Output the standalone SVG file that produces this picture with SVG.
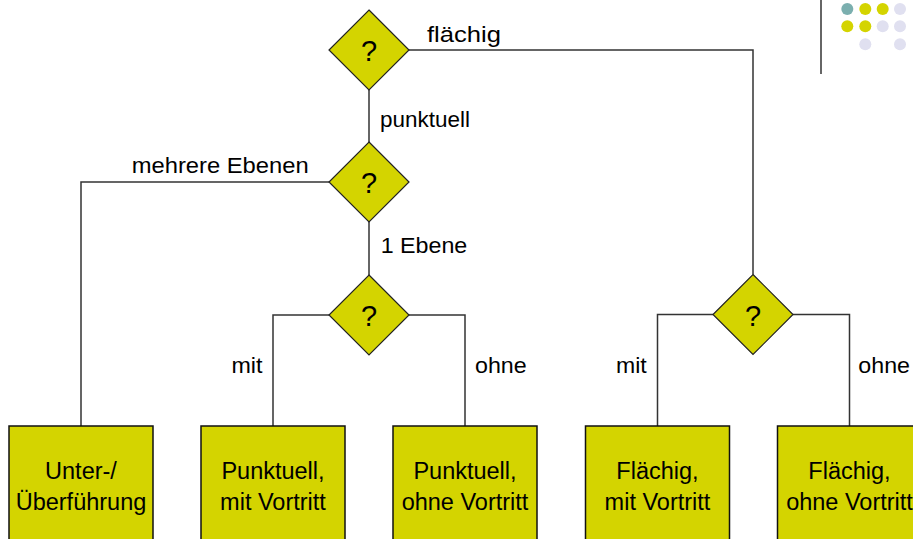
<svg xmlns="http://www.w3.org/2000/svg" width="913" height="539" viewBox="0 0 913 539">
<style>
  text { font-family: "Liberation Sans", Arial, sans-serif; fill: #000; }
  .lbl { font-size: 22.5px; }
  .q { font-size: 29px; text-anchor: middle; }
  .bt { font-size: 23.5px; text-anchor: middle; }
  .dia { fill: #D4D400; stroke: #222; stroke-width: 1.2; }
  .box { fill: #D4D400; stroke: #111; stroke-width: 1.5; }
  .conn path { fill: none; stroke: #333; stroke-width: 1.5; }
</style>
<rect width="913" height="539" fill="#fff"/>

<g id="logo">
  <line x1="821" y1="0" x2="821" y2="74" stroke="#666" stroke-width="2"/>
  <circle cx="847.3" cy="9" r="6" fill="#7BAFAF"/>
  <circle cx="865.3" cy="9" r="6" fill="#D4D400"/>
  <circle cx="882.7" cy="9" r="6" fill="#D4D400"/>
  <circle cx="900" cy="9" r="6" fill="#E0E0F0"/>
  <circle cx="847.3" cy="26.3" r="6" fill="#D4D400"/>
  <circle cx="865.3" cy="26.3" r="6" fill="#D4D400"/>
  <circle cx="882.7" cy="26.3" r="6" fill="#E0E0F0"/>
  <circle cx="900" cy="26.3" r="6" fill="#E0E0F0"/>
  <circle cx="865.3" cy="44.3" r="6" fill="#E0E0F0"/>
  <circle cx="900" cy="44.3" r="6" fill="#E0E0F0"/>
</g>

<g id="connectors" class="conn">
  <path d="M409,50 H753 V274.5"/>
  <path d="M369,90 V142"/>
  <path d="M329,182 H81 V426"/>
  <path d="M369,222 V275"/>
  <path d="M329,315 H273 V426"/>
  <path d="M409,315 H465 V426"/>
  <path d="M713,314.5 H657.5 V426"/>
  <path d="M793,314.5 H849.5 V426"/>
</g>

<g id="labels" class="lbl">
  <text x="427" y="42" textLength="74" lengthAdjust="spacingAndGlyphs">flächig</text>
  <text x="380" y="127" textLength="90" lengthAdjust="spacingAndGlyphs">punktuell</text>
  <text x="131.7" y="173" textLength="177" lengthAdjust="spacingAndGlyphs">mehrere Ebenen</text>
  <text x="380.7" y="253" textLength="86.6" lengthAdjust="spacingAndGlyphs">1 Ebene</text>
  <text x="231.5" y="373" textLength="31" lengthAdjust="spacingAndGlyphs">mit</text>
  <text x="475" y="373" textLength="51.7" lengthAdjust="spacingAndGlyphs">ohne</text>
  <text x="616" y="373" textLength="30.7" lengthAdjust="spacingAndGlyphs">mit</text>
  <text x="858.3" y="373" textLength="51.7" lengthAdjust="spacingAndGlyphs">ohne</text>
</g>

<g id="d1">
  <polygon class="dia" points="369,10 409,50 369,90 329,50"/>
  <text class="q" x="369" y="61">?</text>
</g>
<g id="d2">
  <polygon class="dia" points="369,142 409,182 369,222 329,182"/>
  <text class="q" x="369" y="193">?</text>
</g>
<g id="d3">
  <polygon class="dia" points="369,275 409,315 369,355 329,315"/>
  <text class="q" x="369" y="326">?</text>
</g>
<g id="d4">
  <polygon class="dia" points="753,274.5 793,314.5 753,354.5 713,314.5"/>
  <text class="q" x="753" y="325.5">?</text>
</g>

<g id="b1">
  <rect class="box" x="9" y="426" width="144" height="130"/>
  <text class="bt" x="81" y="479">Unter-/</text>
  <text class="bt" x="81" y="510">Überführung</text>
</g>
<g id="b2">
  <rect class="box" x="201" y="426" width="144" height="130"/>
  <text class="bt" x="273" y="479">Punktuell,</text>
  <text class="bt" x="273" y="510">mit Vortritt</text>
</g>
<g id="b3">
  <rect class="box" x="393" y="426" width="144" height="130"/>
  <text class="bt" x="465" y="479">Punktuell,</text>
  <text class="bt" x="465" y="510">ohne Vortritt</text>
</g>
<g id="b4">
  <rect class="box" x="585.5" y="426" width="144" height="130"/>
  <text class="bt" x="657.5" y="479">Flächig,</text>
  <text class="bt" x="657.5" y="510">mit Vortritt</text>
</g>
<g id="b5">
  <rect class="box" x="777.5" y="426" width="144" height="130"/>
  <text class="bt" x="849.5" y="479">Flächig,</text>
  <text class="bt" x="849.5" y="510">ohne Vortritt</text>
</g>
</svg>
